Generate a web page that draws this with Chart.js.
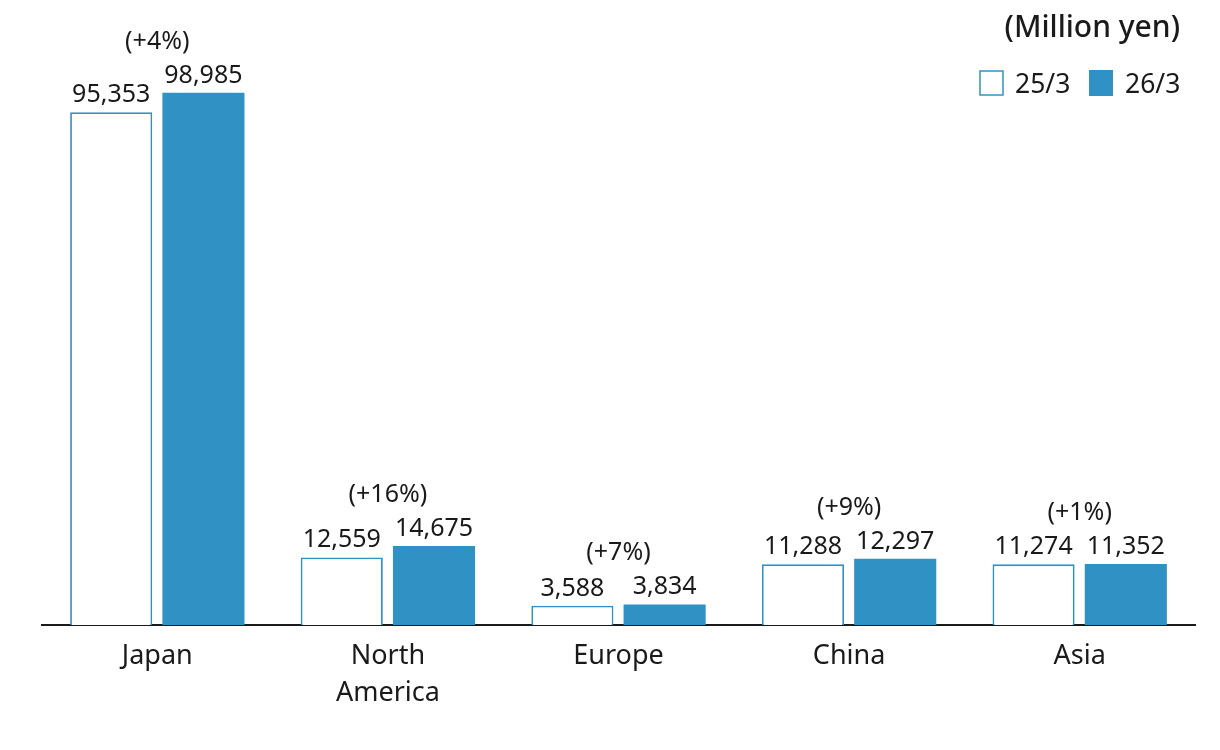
<!DOCTYPE html>
<html>
<head>
<meta charset="utf-8">
<script src="https://cdn.jsdelivr.net/npm/chart.js@4/dist/chart.umd.min.js"></script>
<style>
html,body{margin:0;padding:0;background:#fff;}
#wrap{width:1220px;height:750px;position:relative;}
</style>
</head>
<body>
<div id="wrap"><canvas id="c" width="1220" height="750"></canvas></div>
<script>
const categories = [['Japan'], ['North', 'America'], ['Europe'], ['China'], ['Asia']];
const seriesNames = ['25/3', '26/3'];
const values2503 = [95353, 12559, 3588, 11288, 11274];
const values2603 = [98985, 14675, 3834, 12297, 11352];
const changeLabels = ['(+4%)', '(+16%)', '(+7%)', '(+9%)', '(+1%)'];
const unitLabel = '(Million yen)';

const BLUE = '#3092c4';
const TEXT = '#1a1a1a';
const FONT = '"Noto Sans", "Open Sans", sans-serif';

const fmt = v => v.toLocaleString('en-US');

const labelsPlugin = {
  id: 'labelsPlugin',
  afterDatasetsDraw(chart) {
    const ctx = chart.ctx;
    ctx.save();
    ctx.fillStyle = TEXT;
    ctx.textAlign = 'center';
    ctx.textBaseline = 'alphabetic';
    ctx.font = '25px ' + FONT;
    const m0 = chart.getDatasetMeta(0).data;
    const m1 = chart.getDatasetMeta(1).data;
    chart.data.datasets.forEach((ds, di) => {
      chart.getDatasetMeta(di).data.forEach((bar, i) => {
        ctx.fillText(fmt(ds.data[i]), bar.x, bar.y - 10);
      });
    });
    changeLabels.forEach((t, i) => {
      const top = Math.min(m0[i].y, m1[i].y);
      const cx = (m0[i].x + m1[i].x) / 2;
      ctx.fillText(t, cx, top - 44);
    });
    // unit + legend
    ctx.textAlign = 'right';
    ctx.font = '500 30px ' + FONT;
    ctx.fillText(unitLabel, 1180, 37);
    ctx.font = '26.5px ' + FONT;
    ctx.textAlign = 'left';
    ctx.fillStyle = '#fff';
    ctx.fillRect(980, 71, 23, 24);
    ctx.strokeStyle = BLUE;
    ctx.lineWidth = 1.5;
    ctx.strokeRect(980, 71, 23, 24);
    ctx.fillStyle = TEXT;
    ctx.fillText(seriesNames[0], 1015, 93);
    ctx.fillStyle = BLUE;
    ctx.fillRect(1089, 70, 24, 26);
    ctx.fillStyle = TEXT;
    ctx.fillText(seriesNames[1], 1125, 93);
    ctx.restore();
  }
};

new Chart(document.getElementById('c'), {
  type: 'bar',
  data: {
    labels: categories,
    datasets: [
      { label: seriesNames[0], data: values2503, backgroundColor: '#ffffff', borderColor: BLUE, borderWidth: 1.8,
        categoryPercentage: 0.8, barPercentage: 0.89 },
      { label: seriesNames[1], data: values2603, backgroundColor: BLUE, borderWidth: 0,
        categoryPercentage: 0.8, barPercentage: 0.89 }
    ]
  },
  options: {
    responsive: false,
    animation: false,
    devicePixelRatio: 1,
    layout: { padding: { top: 20, left: 42, right: 25, bottom: 0 } },
    plugins: { legend: { display: false }, tooltip: { enabled: false } },
    scales: {
      y: { display: false, min: 0, max: 112500 },
      x: {
        grid: { display: false, drawTicks: false },
        border: { display: true, color: TEXT, width: 2 },
        ticks: { color: TEXT, font: { family: FONT, size: 27, lineHeight: 1.37 }, padding: 13, maxRotation: 0, autoSkip: false },
        afterFit(scale) { scale.height = 125; }
      }
    }
  },
  plugins: [labelsPlugin]
});
</script>
</body>
</html>
